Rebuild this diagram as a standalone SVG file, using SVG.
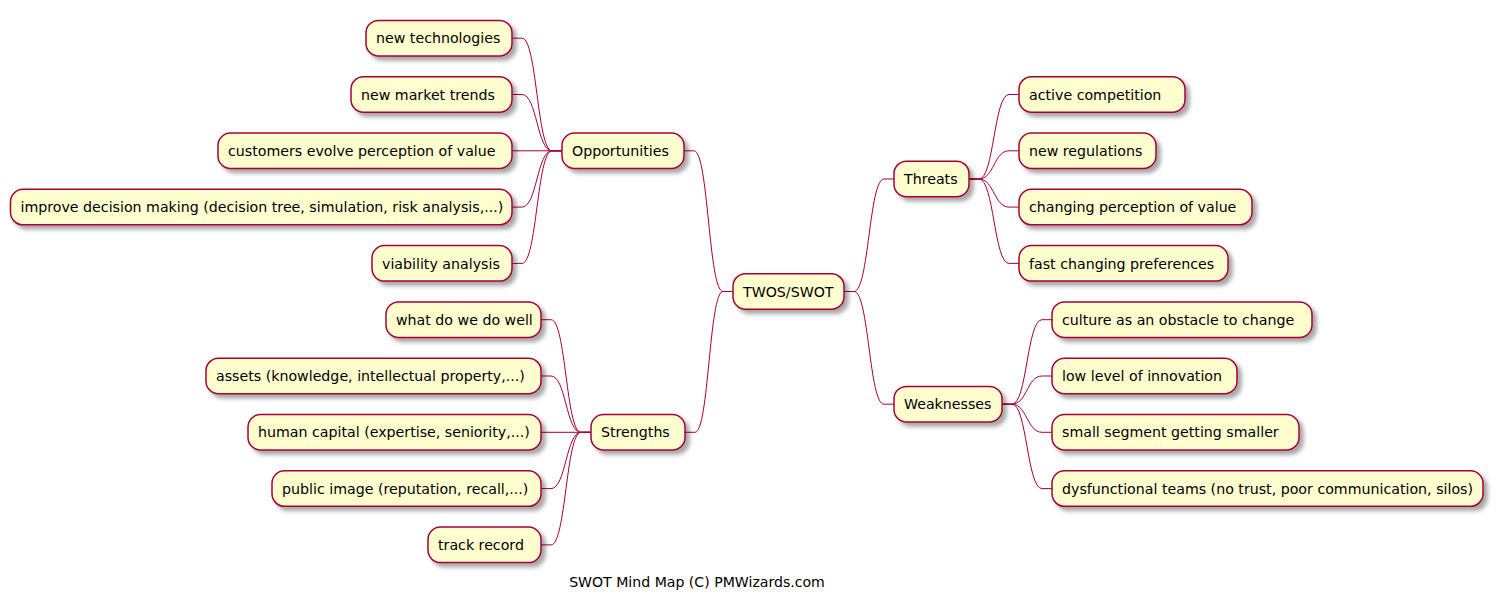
<svg xmlns="http://www.w3.org/2000/svg" width="1502" height="603" viewBox="0 0 1502 603">
<defs>
<filter id="sh" x="-10%" y="-30%" width="130%" height="180%">
<feGaussianBlur in="SourceAlpha" stdDeviation="2"/>
<feOffset dx="4" dy="4" result="b"/>
<feComponentTransfer><feFuncA type="linear" slope="0.35"/></feComponentTransfer>
<feMerge><feMergeNode/><feMergeNode in="SourceGraphic"/></feMerge>
</filter>
<style>
.n rect{fill:#FEFECE;stroke:#A80036;stroke-width:1.5;filter:url(#sh)}
.n text{font-family:"DejaVu Sans",sans-serif;font-size:14.2px;fill:#000}
.c path{fill:none;stroke:#A80036;stroke-width:1}
.t{font-family:"DejaVu Sans",sans-serif;font-size:14.1px;fill:#000}
</style>
</defs>
<rect width="1502" height="603" fill="#fff"/>
<g class="c">
<path d="M733,291.5 L723,291.5 C708.5,291.5 708.5,150.8 694,150.8 L684,150.8"/>
<path d="M733,291.5 L723,291.5 C709,291.5 709,432.3 695,432.3 L685,432.3"/>
<path d="M844,291.5 L854,291.5 C869,291.5 869,179 884,179 L894,179"/>
<path d="M844,291.5 L854,291.5 C869,291.5 869,404.2 884,404.2 L894,404.2"/>
<path d="M562,150.8 L552,150.8 C537,150.8 537,38.2 522,38.2 L512,38.2"/>
<path d="M562,150.8 L552,150.8 C537,150.8 537,94.5 522,94.5 L512,94.5"/>
<path d="M562,150.8 L512,150.8"/>
<path d="M562,150.8 L552,150.8 C537,150.8 537,207.1 522,207.1 L512,207.1"/>
<path d="M562,150.8 L552,150.8 C537,150.8 537,263.4 522,263.4 L512,263.4"/>
<path d="M591,432.3 L581,432.3 C566,432.3 566,319.7 551,319.7 L541,319.7"/>
<path d="M591,432.3 L581,432.3 C566,432.3 566,376 551,376 L541,376"/>
<path d="M591,432.3 L541,432.3"/>
<path d="M591,432.3 L581,432.3 C566,432.3 566,488.6 551,488.6 L541,488.6"/>
<path d="M591,432.3 L581,432.3 C566,432.3 566,544.9 551,544.9 L541,544.9"/>
<path d="M969,179 L979,179 C994,179 994,94.5 1009,94.5 L1019,94.5"/>
<path d="M969,179 L979,179 C994,179 994,150.8 1009,150.8 L1019,150.8"/>
<path d="M969,179 L979,179 C994,179 994,207.1 1009,207.1 L1019,207.1"/>
<path d="M969,179 L979,179 C994,179 994,263.4 1009,263.4 L1019,263.4"/>
<path d="M1002,404.2 L1012,404.2 C1027,404.2 1027,319.7 1042,319.7 L1052,319.7"/>
<path d="M1002,404.2 L1012,404.2 C1027,404.2 1027,376 1042,376 L1052,376"/>
<path d="M1002,404.2 L1012,404.2 C1027,404.2 1027,432.3 1042,432.3 L1052,432.3"/>
<path d="M1002,404.2 L1012,404.2 C1027,404.2 1027,488.6 1042,488.6 L1052,488.6"/>
</g>
<g id="root" class="n"><rect x="733" y="273.7" width="111" height="35.5" rx="12.5"/><text x="743" y="296.6">TWOS/SWOT</text></g>
<g id="opportunities" class="n"><rect x="562" y="133" width="122" height="35.5" rx="12.5"/><text x="572" y="155.9">Opportunities</text></g>
<g id="strengths" class="n"><rect x="591" y="414.5" width="94" height="35.5" rx="12.5"/><text x="601" y="437.4">Strengths</text></g>
<g id="threats" class="n"><rect x="894" y="161.2" width="75" height="35.5" rx="12.5"/><text x="904" y="184.1">Threats</text></g>
<g id="weaknesses" class="n"><rect x="894" y="386.4" width="108" height="35.5" rx="12.5"/><text x="904" y="409.3">Weaknesses</text></g>
<g id="o1" class="n"><rect x="366" y="20.4" width="146" height="35.5" rx="12.5"/><text x="376" y="43.3">new technologies</text></g>
<g id="o2" class="n"><rect x="351" y="76.7" width="161" height="35.5" rx="12.5"/><text x="361" y="99.6">new market trends</text></g>
<g id="o3" class="n"><rect x="218" y="133" width="294" height="35.5" rx="12.5"/><text x="228" y="155.9">customers evolve perception of value</text></g>
<g id="o4" class="n"><rect x="10.5" y="189.3" width="501.5" height="35.5" rx="12.5"/><text x="20.5" y="212.2">improve decision making (decision tree, simulation, risk analysis,...)</text></g>
<g id="o5" class="n"><rect x="372" y="245.6" width="140" height="35.5" rx="12.5"/><text x="382" y="268.5">viability analysis</text></g>
<g id="s1" class="n"><rect x="386" y="301.9" width="155" height="35.5" rx="12.5"/><text x="396" y="324.8">what do we do well</text></g>
<g id="s2" class="n"><rect x="206" y="358.2" width="335" height="35.5" rx="12.5"/><text x="216" y="381.1">assets (knowledge, intellectual property,...)</text></g>
<g id="s3" class="n"><rect x="248" y="414.5" width="293" height="35.5" rx="12.5"/><text x="258" y="437.4">human capital (expertise, seniority,...)</text></g>
<g id="s4" class="n"><rect x="272" y="470.8" width="269" height="35.5" rx="12.5"/><text x="282" y="493.7">public image (reputation, recall,...)</text></g>
<g id="s5" class="n"><rect x="428" y="527.1" width="113" height="35.5" rx="12.5"/><text x="438" y="550">track record</text></g>
<g id="t1" class="n"><rect x="1019" y="76.7" width="166" height="35.5" rx="12.5"/><text x="1029" y="99.6">active competition</text></g>
<g id="t2" class="n"><rect x="1019" y="133" width="137" height="35.5" rx="12.5"/><text x="1029" y="155.9">new regulations</text></g>
<g id="t3" class="n"><rect x="1019" y="189.3" width="233" height="35.5" rx="12.5"/><text x="1029" y="212.2">changing perception of value</text></g>
<g id="t4" class="n"><rect x="1019" y="245.6" width="209" height="35.5" rx="12.5"/><text x="1029" y="268.5">fast changing preferences</text></g>
<g id="w1" class="n"><rect x="1052" y="301.9" width="260" height="35.5" rx="12.5"/><text x="1062" y="324.8">culture as an obstacle to change</text></g>
<g id="w2" class="n"><rect x="1052" y="358.2" width="185" height="35.5" rx="12.5"/><text x="1062" y="381.1">low level of innovation</text></g>
<g id="w3" class="n"><rect x="1052" y="414.5" width="247" height="35.5" rx="12.5"/><text x="1062" y="437.4">small segment getting smaller</text></g>
<g id="w4" class="n"><rect x="1052" y="470.8" width="431" height="35.5" rx="12.5"/><text x="1062" y="493.7">dysfunctional teams (no trust, poor communication, silos)</text></g>
<text class="t" x="697" y="587" text-anchor="middle">SWOT Mind Map (C) PMWizards.com</text>
</svg>
